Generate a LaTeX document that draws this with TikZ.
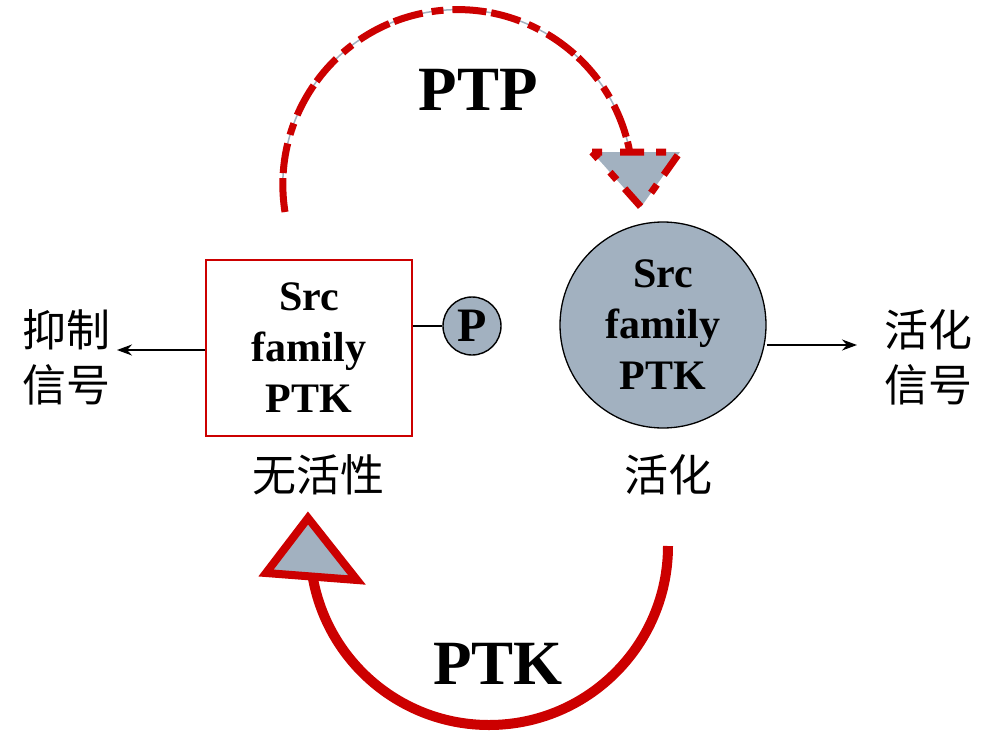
\documentclass[tikz,border=0pt]{standalone}
\usepackage{fontspec}
\setmainfont{Liberation Serif}
\newfontfamily\cjk{Noto Sans CJK SC}
\usetikzlibrary{arrows.meta}
\definecolor{pred}{RGB}{204,0,0}
\definecolor{pgray}{RGB}{162,177,192}
\begin{document}
\begin{tikzpicture}[x=1pt,y=-1pt,
  lbl/.style={font=\bfseries\fontsize{42}{51}\selectfont, align=center, inner sep=0},
  big/.style={font=\bfseries\fontsize{63}{70}\selectfont, inner sep=0},
  cn/.style={font=\cjk\fontsize{44}{55}\selectfont, align=center, inner sep=0},
  thinarrow/.style={line width=1.6pt, -{Stealth[length=15pt,width=11pt]}},
  tri/.style={fill=pgray, line join=miter}
]
\useasboundingbox (0,0) rectangle (988,731);
% inactive box
\node[draw=pred, line width=1.3pt, fill=white, minimum width=206pt, minimum height=176pt, lbl] (box) at (309,348) {Src\\family\\PTK};
% P circle
\node[circle, draw=black, line width=1.4pt, fill=pgray, minimum size=58pt, inner sep=0, font=\bfseries\fontsize{48}{48}\selectfont] (p) at (472,326) {P};
\draw[line width=1.4pt] (box.east |- p) -- (p.west);
% active circle
\node[circle, draw=black, line width=1.3pt, fill=pgray, minimum size=206pt, inner sep=0, lbl] (act) at (663,325) {Src\\family\\PTK};
% side labels
\node[cn] (inh) at (66,357) {抑制\\信号};
\node[cn] (actsig) at (928,357) {活化\\信号};
\node[cn] (inlab) at (318,475) {无活性};
\node[cn] (aclab) at (668,475) {活化};
\coordinate (la) at (117,350);
\coordinate (ra) at (857,345);
\draw[thinarrow] (box.west |- la) -- (la);
\draw[thinarrow] (act.east |- ra) -- (ra);
% PTP dashed arc
\coordinate (ptpS) at (285,212);
\draw[pgray, line width=1.5pt] (ptpS) arc[start angle=171, end angle=349, radius=175] coordinate (ptpE);
\draw[pred, line width=7pt, dash pattern=on 34pt off 5pt on 30pt off 9pt on 12pt off 9pt] (ptpS) arc[start angle=171, end angle=349, radius=175];
\coordinate (t1) at (592,152);
\coordinate (t2) at (680,152);
\coordinate (t3) at (641,207);
\fill[pgray] (t1) -- (t2) -- (t3) -- cycle;
\draw[pred, line width=7pt, dash pattern=on 10pt off 18pt on 24pt off 12pt] (t1) -- (t2) -- (t3) -- cycle;
\node[big] (ptp) at (478,90) {PTP};
% PTK solid arc
\coordinate (ptkS) at (668,546);
\draw[pred, line width=10pt] (ptkS) arc[start angle=0, end angle=170, radius=179] coordinate (ptkE);
\coordinate (u1) at (308,518);
\coordinate (u2) at (266,573);
\coordinate (u3) at (357,580);
\draw[tri, draw=pred, line width=8pt] (u1) -- (u2) -- (u3) -- cycle;
\node[big] (ptk) at (498,664) {PTK};
\end{tikzpicture}
\end{document}
